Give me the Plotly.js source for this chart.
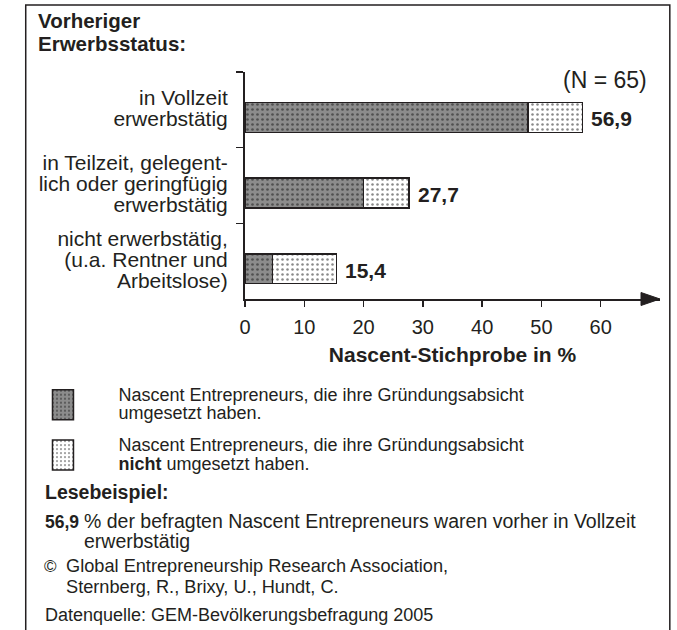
<!DOCTYPE html>
<html>
<head>
<meta charset="utf-8">
<script src="https://cdn.plot.ly/plotly-3.0.1.min.js"></script>
<style>html,body{margin:0;padding:0;background:#fff;}#chart{width:677px;height:630px;}</style>
</head>
<body>
<div id="chart"></div>
<script>
// ---- data ----
const categories = [
  ["in Vollzeit", "erwerbstätig"],
  ["in Teilzeit, gelegent-", "lich oder geringfügig", "erwerbstätig"],
  ["nicht erwerbstätig,", "(u.a. Rentner und", "Arbeitslose)"]
];
const umgesetzt = [47.7, 20.0, 4.6];          // Gründungsabsicht umgesetzt
const nichtUmgesetzt = [9.2, 7.7, 10.8];      // Gründungsabsicht nicht umgesetzt
const totals = [56.9, 27.7, 15.4];
const xTickValues = [0, 10, 20, 30, 40, 50, 60];
const seriesNames = [
  ["Nascent Entrepreneurs, die ihre Gründungsabsicht", "umgesetzt haben."],
  ["Nascent Entrepreneurs, die ihre Gründungsabsicht", "<b>nicht</b> umgesetzt haben."]
];
const sampleNote = "(N = 65)";
const yTitle = ["Vorheriger", "Erwerbsstatus:"];
const xTitle = "Nascent-Stichprobe in %";
const readingTitle = "Lesebeispiel:";
const readingText = ["% der befragten Nascent Entrepreneurs waren vorher in Vollzeit", "erwerbstätig"];
const copyrightText = ["Global Entrepreneurship Research Association,", "Sternberg, R., Brixy, U., Hundt, C."];
const sourceText = "Datenquelle: GEM-Bevölkerungsbefragung 2005";

// ---- helpers ----
const INK = '#231f20';
const FONT = 'Liberation Sans, Arial, sans-serif';
const L = 237, R = 17, T = 72, B = 331, W = 677, H = 630;
const PW = W - L - R, PH = H - T - B;
const X = px => (px - L) / PW;
const Y = py => (T + PH - py) / PH;
const lines = (arr, size, bold) => arr.map(s => '<span style="font-size:' + size + 'px">' + (bold ? '<b>' + s + '</b>' : s) + '</span>').join('<br>');
const fmt = v => v.toFixed(1).replace('.', ',');

const yCats = categories.map(c => lines(c, 21));

const traces = [
  {
    type: 'bar', orientation: 'h', y: yCats, x: umgesetzt,
    name: lines(seriesNames[0], 18), legendgroup: 'a',
    width: 0.396, offset: -0.098,
    marker: { color: '#8c8c8c', line: { color: INK, width: 1.5 },
      pattern: { shape: '.', bgcolor: '#8c8c8c', fgcolor: '#505050', size: 5, solidity: 0.22, fillmode: 'replace' } },
    hoverinfo: 'skip'
  },
  {
    type: 'bar', orientation: 'h', y: yCats, x: nichtUmgesetzt,
    name: lines(seriesNames[1], 18), legendgroup: 'b',
    width: 0.396, offset: -0.098,
    marker: { color: '#ffffff', line: { color: INK, width: 1.5 },
      pattern: { shape: '.', bgcolor: '#ffffff', fgcolor: '#8a8a8a', size: 5, solidity: 0.2, fillmode: 'replace' } },
    hoverinfo: 'skip'
  }
];

const annotations = [];
function txt(text, px, py, size, anchor, extra) {
  annotations.push(Object.assign({ xref: 'paper', yref: 'paper', x: X(px), y: Y(py), text: text,
    showarrow: false, xanchor: anchor || 'left', yanchor: 'middle', align: 'left',
    font: { family: FONT, size: size, color: INK } }, extra || {}));
}
txt(lines(yTitle, 20.5, true), 24, 31.5, 17.7);
txt(sampleNote, 649, 80, 23, 'right');
totals.forEach((v, i) => {
  annotations.push({ xref: 'x', yref: 'y', x: v, y: yCats[i], text: '<b>' + fmt(v) + '</b>',
    showarrow: false, xanchor: 'left', yanchor: 'middle', xshift: 7, yshift: -9,
    font: { family: FONT, size: 21, color: INK } });
});
txt('<b>' + readingTitle + '</b>', 31, 492, 19.5);
txt('<b>' + fmt(totals[0]) + '</b>', 31, 522, 17.5);
txt(lines(readingText, 19.5), 71, 531, 15.5);
txt('©', 30, 566, 17);
txt(lines(copyrightText, 18.2), 53, 576.5, 16);
txt(sourceText, 31, 615, 18);

const boundaries = categories.map((_, i) => i - 0.5).concat([categories.length - 0.5]);

const layout = {
  width: W, height: H,
  margin: { l: L, r: R, t: T, b: B, pad: 0 },
  paper_bgcolor: '#fff', plot_bgcolor: 'rgba(0,0,0,0)',
  barmode: 'stack',
  font: { family: FONT, color: INK },
  xaxis: {
    range: [0, 70], tickmode: 'array', tickvals: xTickValues,
    ticks: 'outside', ticklen: 6, tickwidth: 1.5, tickcolor: INK,
    showline: true, linewidth: 2, linecolor: INK,
    showgrid: false, zeroline: false,
    tickfont: { family: FONT, size: 20, color: INK }, ticklabelstandoff: 3,
    title: { text: '<b>' + xTitle + '</b>', font: { family: FONT, size: 21, color: INK }, standoff: 10 },
    automargin: false, fixedrange: true
  },
  yaxis: {
    type: 'category', categoryorder: 'array', categoryarray: yCats,
    range: [2.5, -0.5], tickson: 'boundaries',
    ticks: 'outside', ticklen: 7, tickwidth: 1.5, tickcolor: INK,
    showline: true, linewidth: 2, linecolor: INK, showgrid: false, zeroline: false,
    tickfont: { family: FONT, size: 16, color: INK }, ticklabelstandoff: 12,
    automargin: false, fixedrange: true
  },
  yaxis2: {
    overlaying: 'y', anchor: 'x', side: 'left', type: 'linear',
    range: [2.5, -0.5], tickmode: 'array', tickvals: boundaries,
    ticks: 'inside', ticklen: 7, tickwidth: 1.5, tickcolor: INK,
    showticklabels: false, showline: false, showgrid: false, zeroline: false, fixedrange: true
  },
  showlegend: true,
  legend: {
    x: X(0), y: Y(380), xanchor: 'left', yanchor: 'top',
    itemwidth: 101, tracegroupgap: 11, traceorder: 'grouped', indentation: -5,
    font: { family: FONT, size: 14, color: INK },
    bgcolor: 'rgba(0,0,0,0)', borderwidth: 0, itemclick: false, itemdoubleclick: false
  },
  annotations: annotations,
  shapes: [
    { type: 'rect', xref: 'paper', yref: 'paper', x0: X(13.5), x1: X(670), y0: Y(5), y1: Y(650),
      line: { color: INK, width: 1.5 }, fillcolor: 'rgba(0,0,0,0)', layer: 'below' },
    { type: 'path', xref: 'x', yref: 'paper', xsizemode: 'pixel', ysizemode: 'pixel', xanchor: 70, yanchor: 0,
      path: 'M-19,-6.5 L0,0 L-19,6.5 Z', fillcolor: INK, line: { color: INK, width: 1 } }
  ]
};

Plotly.newPlot('chart', traces, layout, { staticPlot: true, displayModeBar: false }).then(gd => {
  gd.querySelectorAll('.legend .legendpoints path').forEach(p => {
    p.setAttribute('d', 'M10.5,15H-10.5V-15H10.5Z');
  });
});
</script>
</body>
</html>
